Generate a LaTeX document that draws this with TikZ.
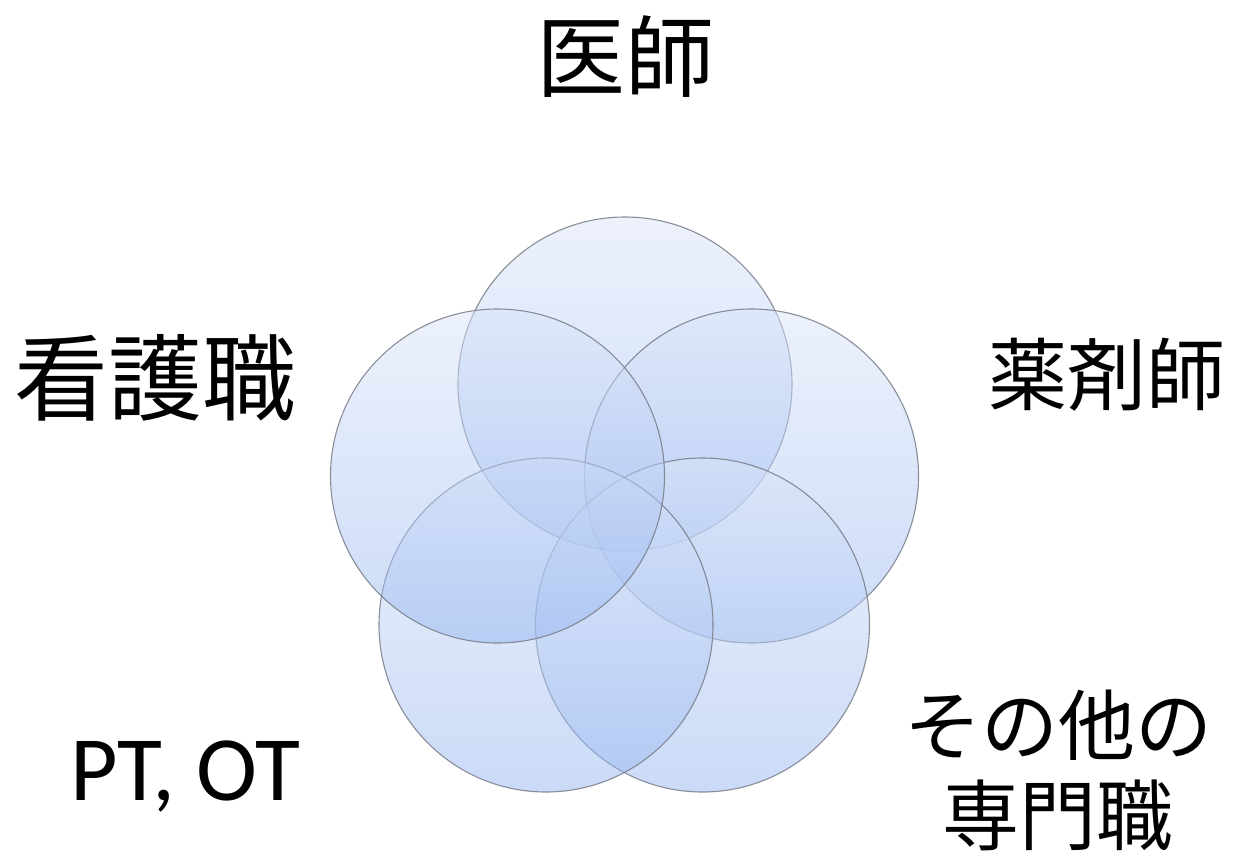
\documentclass[tikz,border=0pt]{standalone}
\usepackage{fontspec}
\setmainfont{Noto Sans CJK JP}
\newfontfamily\latfont{Carlito}
\begin{document}
\begin{tikzpicture}[x=1pt,y=-1pt,
  petal/.style={draw={rgb,255:red,120;green,124;blue,135}, line width=1.1pt, draw opacity=0.85,
    top color={rgb,255:red,219;green,229;blue,249},
    bottom color={rgb,255:red,150;green,182;blue,240},
    fill opacity=0.5},
  lab/.style={inner sep=0pt, align=center, text=black}]
\useasboundingbox (0,0) rectangle (1249,862);
\def\R{167}
\shade[petal] (625,384) circle (\R);
\shade[petal] (751.5,476) circle (\R);
\shade[petal] (702.5,625) circle (\R);
\shade[petal] (546,625) circle (\R);
\shade[petal] (497.5,476) circle (\R);
\node[lab, font=\fontsize{89}{94}\selectfont] (doc) at (625,57) {医師};
\node[lab, font=\fontsize{94}{100}\selectfont] (nurse) at (155,378) {看護職};
\node[lab, font=\fontsize{79}{84}\selectfont] (pharm) at (1107,375) {薬剤師};
\node[lab, font=\latfont\fontsize{92}{96}\selectfont] (ptot) at (185,777) {PT, OT};
\node[lab, font=\fontsize{77}{90}\selectfont] (other) at (1058,770) {その他の\\専門職};
\end{tikzpicture}
\end{document}
